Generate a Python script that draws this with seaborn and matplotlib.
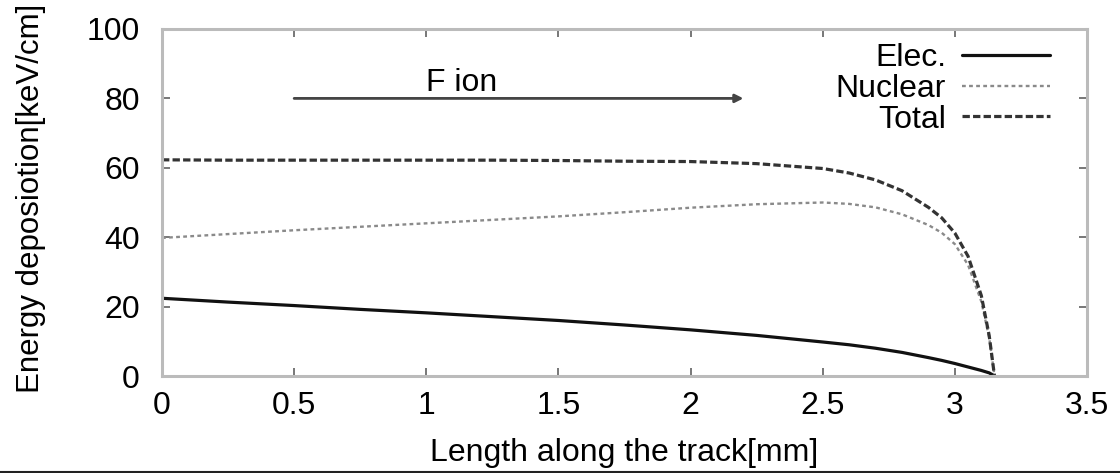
import matplotlib
matplotlib.use("Agg")
import matplotlib.pyplot as plt
import seaborn as sns
import numpy as np
import pandas as pd

# Energy deposition of an F ion along its track
length_mm = [0.0, 0.25, 0.5, 0.75, 1.0, 1.25, 1.5, 1.75, 2.0, 2.25, 2.5,
             2.6, 2.7, 2.8, 2.9, 2.95, 3.0, 3.05, 3.1, 3.13, 3.15]
elec = [22.4, 21.3, 20.3, 19.2, 18.2, 17.1, 16.0, 14.7, 13.3, 11.7, 9.8,
        9.0, 8.0, 6.8, 5.3, 4.5, 3.6, 2.6, 1.6, 0.9, 0.0]
nuclear = [39.8, 40.9, 42.0, 43.0, 44.0, 45.0, 46.0, 47.2, 48.5, 49.5, 50.0,
           49.6, 48.6, 46.6, 43.5, 41.3, 38.0, 32.0, 21.5, 11.0, 0.0]
total = [62.3, 62.2, 62.2, 62.2, 62.2, 62.2, 62.1, 61.9, 61.8, 61.2, 59.8,
         58.5, 56.5, 53.4, 48.6, 45.6, 41.2, 34.5, 23.2, 11.6, 0.0]

x_ticks = [0, 0.5, 1, 1.5, 2, 2.5, 3, 3.5]
x_tick_labels = ["0", "0.5", "1", "1.5", "2", "2.5", "3", "3.5"]
y_ticks = [0, 20, 40, 60, 80, 100]

sns.set_theme(style="white")
plt.rcParams["font.family"] = ["Liberation Sans", "DejaVu Sans"]
plt.rcParams["text.color"] = "black"

FS = 23
fig = plt.figure(figsize=(11.2, 4.73), dpi=100)
ax = fig.add_axes([162 / 1120, 1 - 376 / 473, 925 / 1120, 347 / 473])

sns.lineplot(x=length_mm, y=elec, ax=ax, color="#111111", lw=2.3,
             label="Elec.")
sns.lineplot(x=length_mm, y=nuclear, ax=ax, color="#8a8a8a", lw=1.7,
             dashes=False, label="Nuclear")
sns.lineplot(x=length_mm, y=total, ax=ax, color="#333333", lw=2.3,
             label="Total")
lines = ax.get_lines()
lines[1].set_dashes((1.6, 1.4))
lines[2].set_dashes((2.3, 1.0))

ax.set_xlim(0, 3.5)
ax.set_ylim(0, 100)
ax.set_xticks(x_ticks)
ax.set_xticklabels(x_tick_labels)
ax.set_yticks(y_ticks)

for side in ["left", "right", "top", "bottom"]:
    ax.spines[side].set_visible(True)
    ax.spines[side].set_color("#bbbbbb")
    ax.spines[side].set_linewidth(2.2)

ax.tick_params(axis="both", which="major", direction="in", length=6,
               width=1.4, color="#777777", labelsize=FS, labelcolor="black",
               top=True, right=True, bottom=True, left=True)
ax.tick_params(axis="x", pad=11)
ax.tick_params(axis="y", pad=16)

ax.set_xlabel("Length along the track[mm]", fontsize=FS, color="black",
              va="center")
ax.xaxis.set_label_coords(0.5, -0.222)
ax.set_ylabel("Energy deposiotion[keV/cm]", fontsize=22.5, color="black",
              va="center")
ax.yaxis.set_label_coords(-0.142, 0.513)

# direction of the incoming ion
ax.annotate("", xy=(2.2, 80), xytext=(0.5, 80),
            arrowprops=dict(arrowstyle="-|>", color="#444444", lw=2,
                            mutation_scale=12, shrinkA=0, shrinkB=0))
ax.text(1.0, 84.5, "F ion", fontsize=FS, ha="left", va="center",
        color="black")

leg = ax.legend(loc="upper right", bbox_to_anchor=(0.96, 0.959),
                frameon=False, fontsize=FS, markerfirst=False,
                handlelength=2.75, handletextpad=0.5, labelspacing=0.02,
                borderpad=0, borderaxespad=0)
for t in leg.get_texts():
    t.set_color("black")

# thin rule along the lower edge of the figure
fig.add_artist(plt.Line2D([0, 1], [0.003, 0.003], transform=fig.transFigure,
                          color="#222222", lw=1.5))

fig.savefig("out.png", dpi=100)
